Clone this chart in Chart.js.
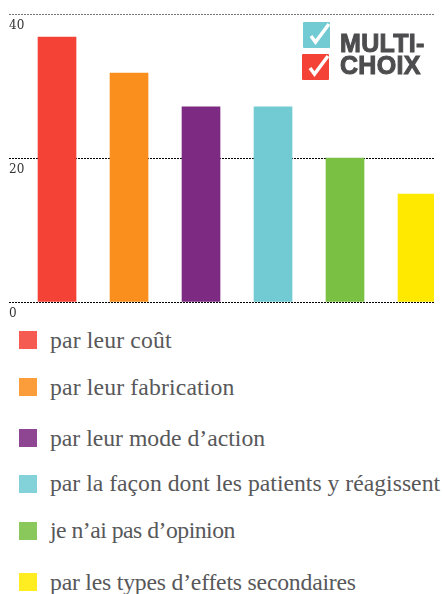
<!DOCTYPE html>
<html lang="fr">
<head>
<meta charset="utf-8">
<title>Multi-choix</title>
<script src="https://cdn.jsdelivr.net/npm/chart.js@4/dist/chart.umd.min.js"></script>
<style>
  body { margin: 0; background: #fff; width: 443px; height: 594px; position: relative; overflow: hidden; }
  canvas { position: absolute; left: 0; top: 0; }
  #legend { list-style: none; margin: 0; padding: 0; }
  #legend li { position: absolute; left: 19px; height: 30px; white-space: nowrap;
    font: 23.7px/30px "Liberation Serif", serif; color: #58585a; }
  #legend i { position: absolute; left: 0; top: 6px; width: 18px; height: 18px; opacity: .87; }
  #legend span { position: absolute; left: 31px; top: 0; }
  #legend li:nth-child(1) { top: 325px; letter-spacing: .15px; }
  #legend li:nth-child(2) { top: 372px; letter-spacing: .15px; }
  #legend li:nth-child(3) { top: 423px; }
  #legend li:nth-child(4) { top: 469px; }
  #legend li:nth-child(5) { top: 516px; letter-spacing: -.5px; }
  #legend li:nth-child(6) { top: 567px; letter-spacing: -.2px; }
  #legend li:nth-child(4) span, #legend li:nth-child(5) span { top: -1px; }
  .box { position: absolute; width: 27px; height: 26px; }
  .logo { position: absolute; left: 340px; font: bold 25px/26px "Liberation Sans", sans-serif;
    color: #4d4d4f; -webkit-text-stroke: 1px #4d4d4f; letter-spacing: .3px; }
</style>
</head>
<body>
<canvas id="myChart" width="443" height="325"></canvas>
<ul id="legend"></ul>

<svg class="box" style="left:303px;top:22px" viewBox="0 0 27 26"><rect width="27" height="26" rx="1" fill="#72cbd3"/><path d="M8 14 L12.5 20 L26 2" fill="none" stroke="#fff" stroke-width="3.5"/></svg>
<svg class="box" style="left:302px;top:54px" viewBox="0 0 27 26"><rect width="27" height="26" rx="1" fill="#f44336"/><path d="M8 14 L12.5 20 L26 2" fill="none" stroke="#fff" stroke-width="3.5"/></svg>
<div class="logo" style="top:30px">MULTI-</div>
<div class="logo" style="top:52px">CHOIX</div>

<script>
const answers = ["par leur coût", "par leur fabrication", "par leur mode d’action", "par la façon dont les patients y réagissent", "je n’ai pas d’opinion", "par les types d’effets secondaires"];
const percents = [36.8, 31.8, 27.1, 27.1, 20, 15];
const barColors = ["#f44336", "#fa8f1e", "#7d2a82", "#72cbd3", "#7ac043", "#ffe900"];
const yTicks = [0, 20, 40];

const ctx = document.getElementById('myChart');

new Chart(ctx, {
  type: "bar",
  data: {
    datasets: [{
      data: percents.map((v, i) => ({x: i, y: v})),
      backgroundColor: barColors,
      barThickness: 38
    }]
  },
  options: {
    responsive: false,
    animation: false,
    layout: {padding: {left: 9, right: 9, top: 14, bottom: 23}},
    plugins: {legend: {display: false}, tooltip: {enabled: false}},
    scales: {
      x: {type: "linear", display: false, offset: false, min: -0.667, max: 5.236},
      y: {
        min: 0,
        max: 40,
        afterBuildTicks: axis => { axis.ticks = yTicks.map(v => ({value: v})); },
        border: {display: false, dash: [2, 1]},
        grid: {
          color: c => c.tick.value == 40 ? "#777" : "#000",
          lineWidth: 1,
          drawTicks: false
        },
        ticks: {
          mirror: true,
          padding: 0,
          labelOffset: 12,
          color: "#333",
          font: {family: "DejaVu Serif", size: 12}
        }
      }
    }
  }
});

document.getElementById("legend").innerHTML = answers.map((a, i) =>
  `<li><i style="background:${barColors[i]}"></i><span>${a}</span></li>`).join("");
</script>
</body>
</html>
